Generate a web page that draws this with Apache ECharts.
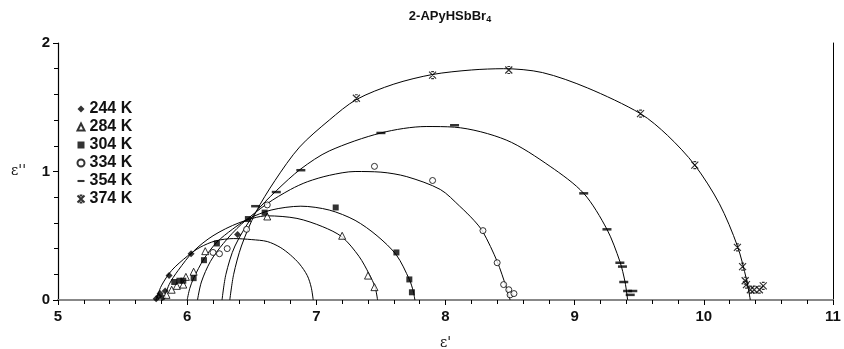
<!DOCTYPE html>
<html>
<head>
<meta charset="utf-8">
<script src="https://cdn.jsdelivr.net/npm/echarts@6/dist/echarts.min.js"></script>
<style>
  html, body { margin: 0; padding: 0; background: #fff; }
  #chart { width: 844px; height: 349px; }
</style>
</head>
<body>
<div id="chart"></div>
<script>
// temperatures shown in the legend
var temps = ['244 K', '284 K', '304 K', '334 K', '354 K', '374 K'];

// measured points [eps', eps'']
var pts244 = [[5.76, 0.01], [5.78, 0.03], [5.79, 0.05], [5.81, 0.02], [5.83, 0.07], [5.86, 0.19], [6.03, 0.36], [6.39, 0.51]];
var pts284 = [[5.84, 0.04], [5.88, 0.08], [5.92, 0.11], [5.97, 0.12], [5.99, 0.18], [6.05, 0.22], [6.14, 0.38], [6.62, 0.65], [7.20, 0.50], [7.40, 0.19], [7.45, 0.10]];
var pts304 = [[5.90, 0.14], [5.94, 0.15], [5.97, 0.15], [6.05, 0.17], [6.13, 0.31], [6.23, 0.44], [6.47, 0.63], [6.60, 0.68], [7.15, 0.72], [7.62, 0.37], [7.72, 0.16], [7.74, 0.06]];
var pts334 = [[6.20, 0.37], [6.25, 0.36], [6.31, 0.40], [6.46, 0.55], [6.62, 0.74], [7.45, 1.04], [7.90, 0.93], [8.29, 0.54], [8.40, 0.29], [8.45, 0.12], [8.49, 0.08], [8.50, 0.04], [8.53, 0.05]];
var pts354 = [[6.53, 0.73], [6.69, 0.84], [6.88, 1.01], [7.50, 1.30], [8.07, 1.36], [9.07, 0.83], [9.25, 0.55], [9.35, 0.29], [9.37, 0.26], [9.38, 0.14], [9.41, 0.07], [9.45, 0.07], [9.43, 0.04]];
var pts374 = [[7.31, 1.57], [7.90, 1.75], [8.49, 1.79], [9.51, 1.45], [9.93, 1.05], [10.26, 0.41], [10.30, 0.26], [10.32, 0.15], [10.33, 0.12], [10.36, 0.08], [10.39, 0.08], [10.43, 0.08], [10.46, 0.11]];

// fitted arcs
var fit244 = [[5.76, 0], [5.80, 0.11], [5.88, 0.23], [6.00, 0.34], [6.10, 0.41], [6.22, 0.46], [6.36, 0.478], [6.50, 0.47], [6.62, 0.455], [6.72, 0.41], [6.80, 0.35], [6.87, 0.28], [6.93, 0.19], [6.96, 0.10], [6.976, 0]];
var fit284 = [[5.82, 0], [5.86, 0.12], [5.93, 0.23], [6.05, 0.38], [6.20, 0.50], [6.40, 0.60], [6.62, 0.655], [6.85, 0.635], [7.05, 0.57], [7.20, 0.49], [7.33, 0.34], [7.41, 0.20], [7.455, 0.10], [7.474, 0]];
var fit304 = [[6.00, 0], [6.02, 0.09], [6.05, 0.17], [6.13, 0.32], [6.23, 0.45], [6.35, 0.55], [6.47, 0.63], [6.65, 0.70], [6.88, 0.73], [7.10, 0.70], [7.30, 0.62], [7.47, 0.50], [7.62, 0.35], [7.72, 0.16], [7.75, 0.07], [7.763, 0]];
var fit334 = [[6.08, 0], [6.11, 0.14], [6.18, 0.30], [6.28, 0.44], [6.42, 0.59], [6.62, 0.75], [6.80, 0.86], [6.93, 0.92], [7.10, 0.97], [7.30, 1.0], [7.50, 0.995], [7.70, 0.96], [7.96, 0.86], [8.11, 0.73], [8.22, 0.62], [8.29, 0.53], [8.40, 0.30], [8.47, 0.10], [8.50, 0]];
var fit354 = [[6.27, 0], [6.30, 0.20], [6.37, 0.42], [6.52, 0.67], [6.69, 0.85], [6.88, 1.02], [7.10, 1.16], [7.50, 1.30], [7.85, 1.35], [8.07, 1.345], [8.47, 1.245], [8.81, 1.04], [9.07, 0.83], [9.25, 0.55], [9.35, 0.30], [9.39, 0.14], [9.41, 0]];
var fit374 = [[6.33, 0], [6.36, 0.20], [6.42, 0.42], [6.53, 0.68], [6.68, 0.93], [6.87, 1.19], [7.10, 1.40], [7.31, 1.56], [7.60, 1.68], [7.90, 1.755], [8.20, 1.79], [8.45, 1.80], [8.75, 1.77], [9.10, 1.65], [9.51, 1.45], [9.72, 1.28], [9.93, 1.05], [10.12, 0.75], [10.26, 0.42], [10.33, 0.16], [10.36, 0]];

var xTicks = [5, 6, 7, 8, 9, 10, 11];
var yTicks = [0, 1, 2];

// symbols
var starPath = 'path://M0,0L10,10M10,0L0,10M3,0L7,0M3,10L7,10';
var dashPath = 'path://M0,0L10,0L10,3L0,3Z';
var symbols = ['diamond', 'triangle', 'rect', 'circle', dashPath, starPath];

function pointSeries(name, data, symbol, size, filled) {
	return {
		name: name,
		type: 'scatter',
		data: data,
		symbol: symbol,
		symbolSize: size,
		z: 3,
		itemStyle: filled ? { color: '#000' } : { color: '#fff', borderColor: '#000', borderWidth: 1 }
	};
}

function fitSeries(data) {
	return {
		type: 'line',
		data: data,
		smooth: 0.3,
		symbol: 'none',
		silent: true,
		z: 2,
		lineStyle: { color: '#000', width: 1 }
	};
}

var chart = echarts.init(document.getElementById('chart'));

var series = [
	pointSeries(temps[0], pts244, symbols[0], 7, true),
	pointSeries(temps[1], pts284, symbols[1], 7, false),
	pointSeries(temps[2], pts304, symbols[2], 6, true),
	pointSeries(temps[3], pts334, symbols[3], 6, false),
	pointSeries(temps[4], pts354, 'rect', [9, 2.5], true),
	{
		name: temps[5],
		type: 'scatter',
		data: pts374,
		symbol: symbols[5],
		symbolSize: 7,
		z: 3,
		itemStyle: { color: 'none', borderColor: '#000', borderWidth: 1.2 }
	},
	fitSeries(fit244), fitSeries(fit284), fitSeries(fit304),
	fitSeries(fit334), fitSeries(fit354), fitSeries(fit374)
];

var legendData = temps.map(function (t, i) {
	return { name: t, icon: symbols[i] };
});

chart.setOption({
	backgroundColor: '#fff',
	animation: false,
	title: {
		text: '{a|2-APyHSbBr}{s|4}',
		left: 445,
		textAlign: 'center',
		top: 4,
		textStyle: {
			rich: {
				a: { fontFamily: 'Liberation Sans', fontWeight: 'bold', fontSize: 13, color: '#111' },
				s: { fontFamily: 'Liberation Sans', fontWeight: 'bold', fontSize: 9, color: '#111', verticalAlign: 'bottom', padding: [6, 0, 0, 0] }
			}
		}
	},
	legend: {
		data: legendData,
		orient: 'vertical',
		left: 75,
		top: 101,
		padding: 0,
		itemWidth: 7,
		itemHeight: 7,
		itemGap: 2,
		textStyle: { fontFamily: 'Liberation Sans', fontWeight: 'bold', fontSize: 16, color: '#111' }
	},
	grid: { left: 58, right: 11, top: 43, bottom: 49, outerBoundsMode: 'none' },
	xAxis: [{
		type: 'value',
		min: xTicks[0],
		max: xTicks[xTicks.length - 1],
		interval: 1,
		name: "ε'",
		nameLocation: 'middle',
		nameGap: 36,
		nameTextStyle: { fontFamily: 'DejaVu Serif', fontSize: 14, color: '#111' },
		axisLine: { lineStyle: { color: '#000', width: 1.5 } },
		axisTick: { inside: false, length: 5, lineStyle: { color: '#000' } },
		minorTick: { show: true, splitNumber: 5, length: 4, lineStyle: { color: '#000' } },
		axisLabel: { margin: 9, fontFamily: 'Liberation Sans', fontWeight: 'bold', fontSize: 15, color: '#111' },
		splitLine: { show: false }
	}, {
		type: 'value',
		position: 'top',
		min: xTicks[0],
		max: xTicks[xTicks.length - 1],
		axisLine: { lineStyle: { color: '#888', width: 2 } },
		axisTick: { show: false },
		axisLabel: { show: false },
		splitLine: { show: false }
	}],
	yAxis: [{
		type: 'value',
		min: yTicks[0],
		max: yTicks[yTicks.length - 1],
		interval: 1,
		name: "ε''",
		nameLocation: 'middle',
		nameRotate: 0,
		nameGap: 32,
		nameTextStyle: { fontFamily: 'DejaVu Serif', fontSize: 14, color: '#111' },
		axisLine: { lineStyle: { color: '#000', width: 1.2 } },
		axisTick: { inside: false, length: 5, lineStyle: { color: '#000' } },
		minorTick: { show: true, splitNumber: 5, length: 4, lineStyle: { color: '#000' } },
		axisLabel: { margin: 8, fontFamily: 'Liberation Sans', fontWeight: 'bold', fontSize: 15, color: '#111' },
		splitLine: { show: false }
	}, {
		type: 'value',
		position: 'right',
		min: yTicks[0],
		max: yTicks[yTicks.length - 1],
		axisLine: { lineStyle: { color: '#000', width: 1 } },
		axisTick: { show: false },
		axisLabel: { show: false },
		splitLine: { show: false }
	}],
	series: series
});
</script>
</body>
</html>
